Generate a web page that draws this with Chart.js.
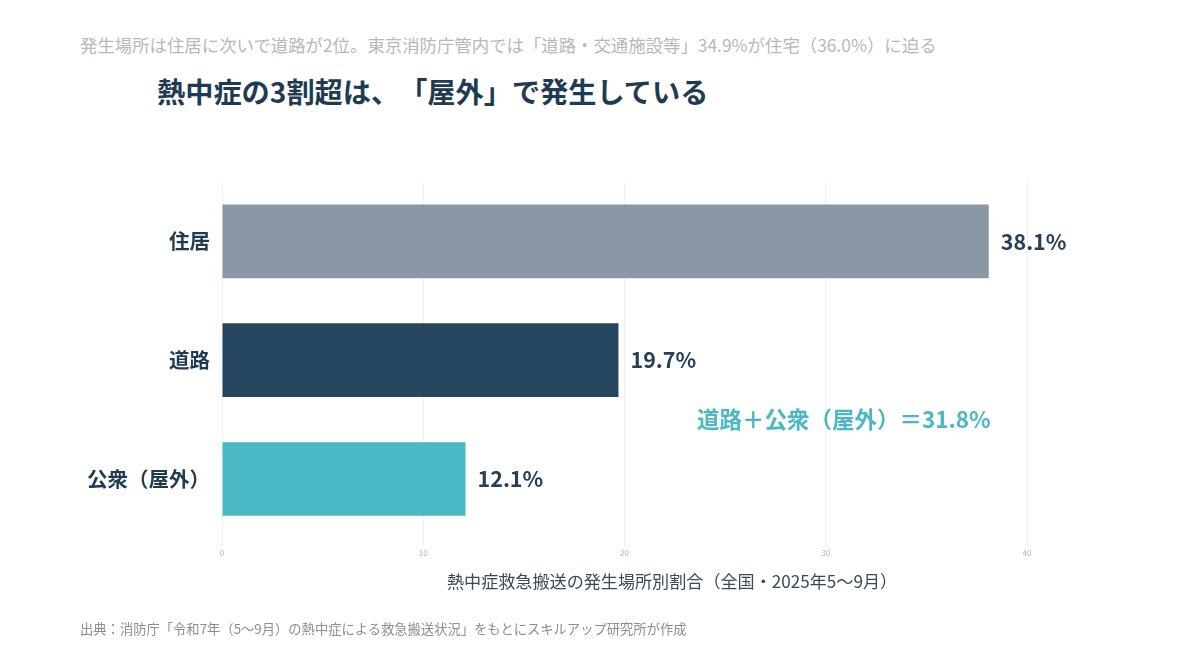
<!DOCTYPE html>
<html lang="ja">
<head>
<meta charset="utf-8">
<title>熱中症の発生場所</title>
<script src="https://cdn.jsdelivr.net/npm/chart.js@4/dist/chart.umd.min.js"></script>
<style>
  html, body { margin: 0; padding: 0; background: #fff; }
  body { width: 1200px; height: 654px; position: relative; overflow: hidden;
         font-family: "Noto Sans CJK JP", "Noto Sans", sans-serif; }
  #wrap { position: absolute; left: 0; top: 0; width: 1200px; height: 654px; }
  .txt { position: absolute; white-space: nowrap; text-spacing-trim: space-all; }
  #sub { left: 80px; top: 32px; font-size: 17.4px; color: #b8b8b8; }
  #title { left: 157px; top: 70px; font-size: 28.2px; font-weight: 700; color: #1f3b53; }
  #xtitle { left: 447px; top: 568px; font-size: 17.1px; color: #3a4a5b; }
  #src { left: 80px; top: 619px; font-size: 13.3px; color: #8e8e8e; }
</style>
</head>
<body>
<div class="txt" id="sub">発生場所は住居に次いで道路が2位。東京消防庁管内では「道路・交通施設等」34.9%が住宅（36.0%）に迫る</div>
<div class="txt" id="title">熱中症の3割超は、「屋外」で発生している</div>
<div id="wrap"><canvas id="chart" width="1200" height="654"></canvas></div>
<div class="txt" id="xtitle">熱中症救急搬送の発生場所別割合（全国・2025年5〜9月）</div>
<div class="txt" id="src">出典：消防庁「令和7年（5〜9月）の熱中症による救急搬送状況」をもとにスキルアップ研究所が作成</div>
<script>
const places = ['住居', '道路', '公衆（屋外）'];
const shares = [38.1, 19.7, 12.1];
const barColors = ['#8a97a4', '#25465e', '#4bb8c6'];
const xTicks = [0, 10, 20, 30, 40];
const noteText = '道路＋公衆（屋外）＝31.8%';
const noteAt = { x: 30.9, y: 1.5 };

const FONT = '"Noto Sans CJK JP", "Noto Sans", sans-serif';

// value labels after each bar + outdoor note
const labelPlugin = {
    id: 'labels',
    afterDatasetsDraw(chart) {
        const ctx = chart.ctx;
        const meta = chart.getDatasetMeta(0);
        ctx.save();
        ctx.font = '700 21.5px ' + FONT;
        ctx.fillStyle = '#263f57';
        ctx.textAlign = 'left';
        ctx.textBaseline = 'middle';
        meta.data.forEach((bar, i) => {
            ctx.fillText(shares[i].toFixed(1) + '%', bar.x + 12, bar.y);
        });
        const xs = chart.scales.x, ys = chart.scales.y;
        ctx.font = '700 22.5px ' + FONT;
        ctx.fillStyle = '#4bb8c6';
        ctx.textAlign = 'center';
        ctx.fillText(noteText, xs.getPixelForValue(noteAt.x), ys.getPixelForValue(noteAt.y));
        ctx.restore();
    }
};

new Chart(document.getElementById('chart'), {
    type: 'bar',
    data: {
        labels: places,
        datasets: [{
            data: shares,
            backgroundColor: barColors,
            borderWidth: 0,
            categoryPercentage: 1,
            barPercentage: 0.62
        }]
    },
    options: {
        indexAxis: 'y',
        responsive: false,
        animation: false,
        layout: { padding: { left: 0, top: 182, right: 173, bottom: 94 } },
        plugins: { legend: { display: false }, tooltip: { enabled: false } },
        scales: {
            x: {
                min: 0,
                max: 40,
                afterBuildTicks(scale) { scale.ticks = xTicks.map(v => ({ value: v })); },
                grid: { color: '#efeff3', lineWidth: 1, tickLength: 8, drawTicks: true },
                border: { display: false },
                ticks: { color: '#b0b0b8', font: { size: 8, family: FONT }, padding: 2 }
            },
            y: {
                grid: { display: false },
                border: { display: false },
                afterFit(scale) { scale.width = 222; },
                ticks: { color: '#1f3b53', font: { size: 20.5, weight: '700', family: FONT }, padding: 4 }
            }
        }
    },
    plugins: [labelPlugin]
});
</script>
</body>
</html>
